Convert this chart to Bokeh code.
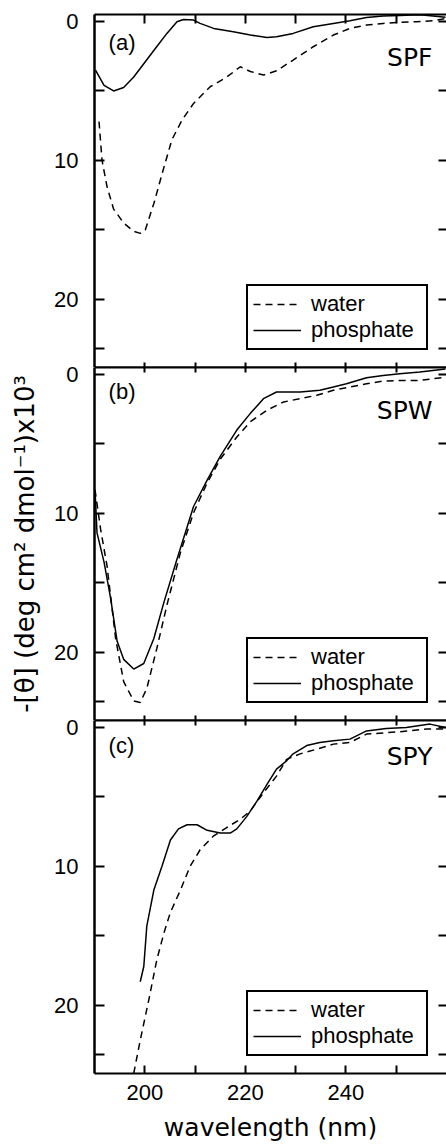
from bokeh.plotting import figure
from bokeh.layouts import column
from bokeh.models import Range1d, FixedTicker, LinearAxis, Legend, LegendItem
from bokeh.core.properties import value
from bokeh.embed import file_html
from bokeh.resources import INLINE

# ---- CD spectra: -[theta] (x10^3 deg cm^2 dmol^-1) vs wavelength (nm) ----
panel_tags = ["(a)", "(b)", "(c)"]
sample_names = ["SPF", "SPW", "SPY"]
solvents = ["water", "phosphate"]

x_ticks = [200, 220, 240]
x_minor_ticks = [210, 230, 250]
x_all_ticks = [200, 210, 220, 230, 240, 250]
y_ticks = [0, 10, 20]
y_minor_ticks = [5, 15, 23.5]
y_all_ticks = [0, 5, 10, 15, 20, 23.5]

# SPF
spf_wl_water = [190.9, 191.5, 192.5, 193.8, 195.8, 197.8, 199.1, 200.1, 201.8, 203.8,
                205.4, 207.4, 209.7, 213.0, 216.3, 219.0, 221.0, 223.6, 226.2, 229.5,
                233.5, 237.5, 240.8, 244.1, 247.4, 250.7, 254.0, 257.3, 259.8]
spf_water = [7.2, 10.0, 11.9, 13.5, 14.5, 15.1, 15.25, 15.0, 13.1, 10.5,
             8.5, 7.1, 5.9, 4.7, 4.0, 3.26, 3.6, 3.86, 3.55, 2.78,
             1.82, 0.98, 0.5, 0.26, 0.14, 0.07, 0.02, -0.05, -0.2]
spf_wl_phos = [190.2, 191.9, 193.8, 195.8, 197.8, 200.1, 202.4, 204.4, 206.4, 207.7,
               209.7, 211.0, 213.7, 217.6, 221.0, 224.3, 226.2, 229.5, 233.5, 237.5,
               240.8, 244.1, 247.4, 250.7, 254.7, 257.3, 259.8]
spf_phos = [3.5, 4.6, 5.0, 4.75, 4.0, 2.9, 1.8, 0.86, 0.02, -0.14,
            -0.1, 0.14, 0.5, 0.74, 0.98, 1.15, 1.1, 0.86, 0.38, 0.14,
            -0.05, -0.29, -0.4, -0.43, -0.48, -0.4, -0.3]

# SPW
spw_wl_water = [190.1, 191.2, 192.5, 194.2, 195.8, 197.8, 199.1, 200.4, 202.4, 204.4,
                207.1, 209.7, 212.4, 215.0, 218.3, 221.0, 224.3, 227.6, 230.9, 234.2,
                237.5, 240.8, 244.1, 247.4, 250.7, 254.7, 259.8]
spw_water = [8.3, 11.1, 13.8, 19.0, 22.1, 23.5, 23.6, 22.6, 19.7, 16.6,
             12.8, 9.95, 7.8, 6.1, 4.5, 3.4, 2.57, 1.98, 1.74, 1.5,
             1.14, 0.9, 0.67, 0.48, 0.43, 0.43, 0.2]
spw_wl_phos = [190.1, 190.5, 191.9, 193.2, 194.5, 195.8, 197.8, 199.8, 201.8, 203.8,
               206.4, 209.7, 212.4, 215.0, 218.3, 221.0, 223.6, 226.2, 228.2, 230.9,
               234.8, 237.5, 240.1, 244.1, 247.4, 250.7, 254.7, 259.8]
spw_phos = [8.3, 11.4, 13.5, 16.1, 19.2, 20.5, 21.2, 20.8, 19.0, 16.4,
            13.3, 9.5, 7.6, 5.9, 4.0, 2.8, 1.74, 1.26, 1.26, 1.26,
            1.14, 0.9, 0.67, 0.24, 0.07, -0.05, -0.17, -0.4]

# SPY
spy_wl_water = [197.8, 199.1, 200.8, 202.4, 203.8, 205.1, 207.1, 209.0, 211.0, 213.7,
                216.3, 219.0, 221.0, 223.6, 226.2, 228.2, 230.9, 234.2, 237.5, 240.8,
                244.1, 250.7, 256.0, 259.8]
spy_water = [24.9, 22.5, 19.6, 16.7, 14.8, 13.3, 11.7, 10.0, 8.8, 7.8,
             7.2, 6.6, 6.0, 4.7, 3.5, 2.3, 1.9, 1.56, 1.2, 1.08,
             0.48, 0.31, 0.12, 0.12]
spy_wl_phos = [199.1, 199.8, 200.4, 201.8, 203.4, 205.1, 206.7, 208.4, 210.4, 212.4,
               215.0, 217.0, 218.3, 220.3, 222.3, 224.3, 226.2, 228.2, 229.5, 232.2,
               234.8, 237.5, 240.8, 244.1, 248.0, 252.0, 256.7, 259.8]
spy_phos = [18.3, 17.2, 14.3, 11.7, 10.0, 8.1, 7.3, 7.0, 7.0, 7.4,
            7.6, 7.6, 7.3, 6.4, 5.3, 4.1, 3.0, 2.4, 1.9, 1.3,
            1.08, 0.96, 0.84, 0.25, 0.07, 0.0, -0.24, 0.0]

series = [
    (spf_wl_water, spf_water, spf_wl_phos, spf_phos),
    (spw_wl_water, spw_water, spw_wl_phos, spw_phos),
    (spy_wl_water, spy_water, spy_wl_phos, spy_phos),
]

TICK_FONT = "Liberation Sans"
TITLE_FONT = "DejaVu Sans"
Y_LABEL = "-[\u03b8] (deg cm\u00b2 dmol\u207b\u00b9)x10\u00b3"
X_LABEL = "wavelength (nm)"

FRAME_H = 353
TOP_PAD = 14
BOTTOM_PAD = 72
OVERLAP = 10   # lower panels tuck their (transparent) top border under the panel above

# in-panel text placement (data units)
tag_y = [1.55, 1.25, 1.3]
name_y = [2.6, 2.6, 2.1]


def tick_axis(tick_in, labelled=False, major=None, minor=None, width=2):
    """Axis with inward ticks; unlabelled axes carry only minor ticks."""
    if labelled:
        ticker = FixedTicker(ticks=major, minor_ticks=minor)
    else:
        ticker = FixedTicker(ticks=[], minor_ticks=minor)
    ax = LinearAxis(ticker=ticker)
    ax.major_tick_in = tick_in
    ax.major_tick_out = 0
    ax.minor_tick_in = tick_in
    ax.minor_tick_out = 0
    ax.major_tick_line_width = 2
    ax.minor_tick_line_width = 2
    ax.major_tick_line_color = "black"
    ax.minor_tick_line_color = "black"
    ax.axis_line_width = width
    ax.axis_line_color = "black"
    ax.major_label_text_font = TICK_FONT
    ax.major_label_text_font_size = "22px"
    ax.major_label_text_color = "black"
    ax.axis_label_text_font = TITLE_FONT
    ax.axis_label_text_font_size = "25px"
    ax.axis_label_text_font_style = "normal"
    ax.axis_label_text_color = "black"
    return ax


panels = []
for i, (wl_w, w, wl_p, ph) in enumerate(series):
    first = i == 0
    last = i == len(series) - 1
    top = TOP_PAD if first else OVERLAP
    bottom = BOTTOM_PAD if last else 0
    p = figure(width=446, height=FRAME_H + top + bottom,
               x_range=Range1d(190, 260), y_range=Range1d(24.9, -0.5),
               x_axis_location=None, y_axis_location=None,
               output_backend="svg", toolbar_location=None,
               min_border_left=94, min_border_right=0,
               min_border_top=top, min_border_bottom=bottom,
               background_fill_color="white",
               border_fill_color="white", border_fill_alpha=1.0 if first else 0.0,
               margin=(0, 0, 0, 0) if first else (-OVERLAP, 0, 0, 0))
    p.outline_line_color = None
    p.xgrid.grid_line_color = None
    p.ygrid.grid_line_color = None

    left = tick_axis(10, labelled=True, major=y_ticks, minor=y_minor_ticks, width=2.5)
    left.major_label_standoff = 16
    if i == 1:
        left.axis_label = Y_LABEL
        left.axis_label_text_font_size = "26px"
        left.axis_label_standoff = 11
    p.add_layout(left, "left")

    right = tick_axis(8, minor=y_all_ticks)
    right.axis_line_color = None
    p.add_layout(right, "right")

    p.add_layout(tick_axis(9 if first else 5, minor=x_all_ticks), "above")
    if last:
        bottom_ax = tick_axis(8, labelled=True, major=x_ticks, minor=x_minor_ticks)
        bottom_ax.major_label_standoff = 11
        bottom_ax.axis_label = X_LABEL
        bottom_ax.axis_label_standoff = 10
        p.add_layout(bottom_ax, "below")
    else:
        p.add_layout(tick_axis(5, minor=x_all_ticks), "below")

    rw = p.line(wl_w, w, line_color="black", line_width=1.5, line_dash="7 5")
    rp = p.line(wl_p, ph, line_color="black", line_width=1.5)

    p.text(x=[192.8], y=[tag_y[i]], text=[panel_tags[i]],
           text_font=value(TICK_FONT), text_font_size="22px",
           text_baseline="middle", text_align="left", text_color="black")
    p.text(x=[257.2], y=[name_y[i]], text=[sample_names[i]],
           text_font=value(TITLE_FONT), text_font_size="25px",
           text_baseline="middle", text_align="right", text_color="black")

    legend = Legend(items=[LegendItem(label=solvents[0], renderers=[rw]),
                           LegendItem(label=solvents[1], renderers=[rp])],
                    location=(152, 17), orientation="vertical",
                    label_text_font=TICK_FONT, label_text_font_size="22px",
                    label_text_color="black",
                    glyph_width=48, glyph_height=20, label_height=20,
                    label_width=110, label_standoff=10,
                    spacing=0, padding=5, margin=0,
                    border_line_color="black", border_line_width=2,
                    border_line_alpha=1.0,
                    background_fill_color="white", background_fill_alpha=1.0)
    p.add_layout(legend)
    panels.append(p)

layout = column(*panels, spacing=0)
open("out.html", "w").write(file_html(layout, INLINE))
